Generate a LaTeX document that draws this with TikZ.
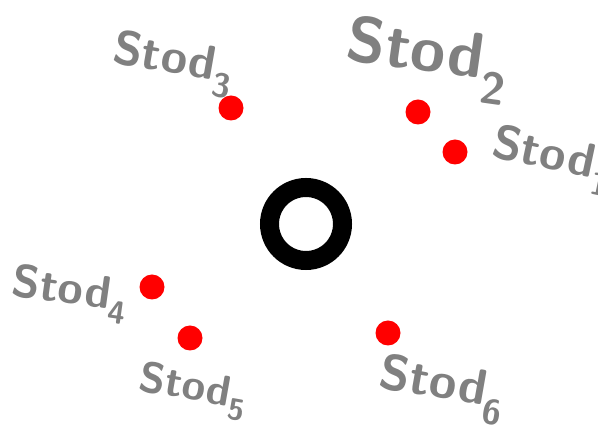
\documentclass[tikz,border=0pt]{standalone}
\usepackage{tikz}

\begin{document}
\begin{tikzpicture}[
    x=1pt, y=-1pt,
    hub/.style  ={circle, draw=black, line width=19pt, minimum size=73pt,
                  inner sep=0pt},
    site/.style ={circle, fill=red, minimum size=25pt, inner sep=0pt},
    lab/.style  ={text=gray, inner sep=0pt, anchor=center},
]

% ----------------------------------------------------------------------
%  frame + central hub
% ----------------------------------------------------------------------
\useasboundingbox (0,0) rectangle (598,435);
\node[hub] (core) at (306,224) {};

% ----------------------------------------------------------------------
%  red sites and their labels
% ----------------------------------------------------------------------
\node[site] (s1) at (455,152) {};
\node[site] (s2) at (418,112) {};
\node[site] (s3) at (231,108) {};
\node[site] (s4) at (152,287) {};
\node[site] (s5) at (190,338) {};
\node[site] (s6) at (388,333) {};

\node[lab, rotate=-12, font=\sffamily\bfseries\fontsize{48}{48}\selectfont]
      (l1) at (552,160) {Stod\textsubscript{1}};
\node[lab, rotate=-8, font=\sffamily\bfseries\fontsize{64}{64}\selectfont]
      (l2) at (427,60) {Stod\textsubscript{2}};
\node[lab, rotate=-10, font=\sffamily\bfseries\fontsize{48}{48}\selectfont]
      (l3) at (173,64) {Stod\textsubscript{3}};
\node[lab, rotate=-8, font=\sffamily\bfseries\fontsize{46}{46}\selectfont]
      (l4) at (70,294) {Stod\textsubscript{4}};
\node[lab, rotate=-10, font=\sffamily\bfseries\fontsize{43}{43}\selectfont]
      (l5) at (193,391) {Stod\textsubscript{5}};
\node[lab, rotate=-10, font=\sffamily\bfseries\fontsize{50}{50}\selectfont]
      (l6) at (442,389) {Stod\textsubscript{6}};

\end{tikzpicture}
\end{document}
